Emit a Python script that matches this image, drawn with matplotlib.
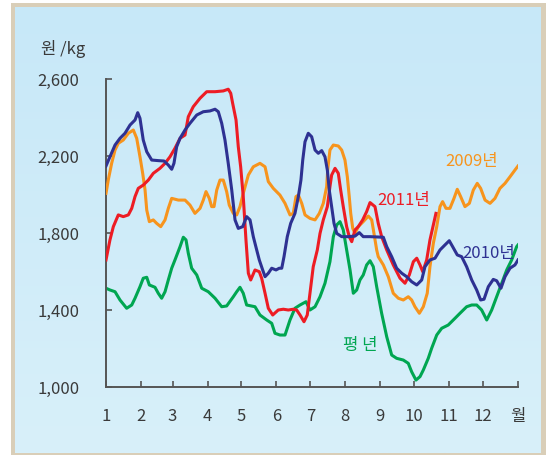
import matplotlib
matplotlib.use('Agg')
import matplotlib.pyplot as plt
import numpy as np
from matplotlib.patches import Rectangle

plt.rcParams['font.family'] = ['Noto Sans CJK KR', 'DejaVu Sans']

# 월 시작일 (1월 1일 = 0일)
month_starts = [0, 31, 59, 90, 120, 151, 181, 212, 243, 273, 304, 334, 365]
month_labels = ['1', '2', '3', '4', '5', '6', '7', '8', '9', '10', '11', '12', '월']
y_ticks = [1000, 1400, 1800, 2200, 2600]
y_labels = ['1,000', '1,400', '1,800', '2,200', '2,600']

# 평년 (일, 원/kg)
days_avg = [0, 3.5, 8, 12.4, 18.3, 22.8, 25.7, 30.1, 33, 36.1,
            38.4, 43.4, 46.3, 49.3, 52.3, 55.2, 58.2, 61.1, 65.6, 68.5,
            70.9, 72.9, 75.9, 80.4, 84.8, 90.6, 96.6, 102.5, 106.9, 112.8,
            115.8, 118.7, 121.6, 124.6, 132, 136.4, 142.4, 146.8, 149.7, 154.1,
            158.6, 163, 167.4, 171.9, 177.2, 180.7, 185.2, 189.6, 194, 198.4,
            201.4, 204.4, 207.3, 210.2, 213.2, 216.2, 219.1, 222.1, 225, 227.9,
            230.9, 233.9, 236.8, 239.8, 244.2, 248.7, 253.1, 257.5, 263.4, 267.8,
            270.8, 274.6, 278.2, 281.1, 285.5, 288.5, 293, 297.4, 303.2, 309.2,
            313.6, 319.5, 324, 328.4, 332.8, 337.3, 341.7, 346.1, 350.6, 355,
            359.4, 363.8, 365]
price_avg = [1513, 1504, 1495, 1452, 1409, 1426, 1461, 1521, 1565, 1570,
             1530, 1518, 1487, 1461, 1495, 1556, 1617, 1660, 1729, 1778,
             1764, 1695, 1617, 1582, 1513, 1495, 1461, 1417, 1421, 1469,
             1495, 1518, 1487, 1426, 1417, 1374, 1348, 1331, 1279, 1270,
             1270, 1348, 1409, 1426, 1443, 1400, 1417, 1469, 1539, 1651,
             1781, 1842, 1859, 1816, 1712, 1608, 1487, 1504, 1556, 1582,
             1634, 1656, 1625, 1521, 1383, 1261, 1166, 1149, 1140, 1123,
             1079, 1036, 1054, 1088, 1149, 1201, 1270, 1305, 1322, 1357,
             1383, 1417, 1426, 1426, 1400, 1348, 1400, 1469, 1539, 1608,
             1660, 1729, 1738]

# 2009년
days_2009 = [0, 2, 5, 8, 10.9, 15.3, 19.8, 24.2, 27.2, 30.1,
             32.5, 34.6, 36.1, 38.4, 41.9, 44.9, 48.5, 52.3, 55.2, 58.2,
             64.1, 70, 74.4, 78.8, 83.3, 86.2, 88.6, 91.5, 93.6, 95.7,
             98.1, 101, 103.9, 106.9, 109.2, 112.8, 115.8, 118.7, 121.6, 126.1,
             130.5, 136.4, 140.9, 143.8, 148.2, 154.1, 158.6, 163, 165.9, 168.3,
             170.4, 173.4, 176.3, 180.7, 185.2, 189, 192.5, 195.5, 196.4, 198.4,
             201.4, 205.8, 208.8, 211.7, 213.8, 215.5, 216.8, 218.6, 220.6, 223.5,
             227.9, 232.4, 235.4, 237.4, 239.8, 241.2, 245.7, 250.1, 254.5, 259,
             263.4, 267.8, 270.8, 273.7, 277.6, 281.1, 284.6, 287, 290, 293,
             295.9, 298.2, 301.2, 304.7, 308.3, 311.2, 314.2, 318, 321.9, 325.4,
             328.9, 331.9, 335.8, 340.2, 344.6, 349, 353.5, 357.9, 362.3, 365]
price_2009 = [2006, 2075, 2162, 2231, 2266, 2283, 2318, 2335, 2292, 2196,
              2110, 2023, 1919, 1859, 1868, 1850, 1833, 1868, 1928, 1980,
              1971, 1971, 1945, 1902, 1928, 1971, 2015, 1980, 1937, 1937,
              2023, 2075, 2075, 2015, 1945, 1902, 1894, 1937, 2006, 2101,
              2144, 2162, 2144, 2067, 2032, 1997, 1954, 1894, 1902, 1989,
              1997, 1954, 1894, 1876, 1868, 1902, 1954, 2041, 2127, 2231,
              2257, 2252, 2231, 2179, 2092, 1989, 1902, 1824, 1798, 1833,
              1859, 1888, 1868, 1798, 1712, 1677, 1634, 1573, 1487, 1461,
              1452, 1469, 1452, 1417, 1383, 1417, 1487, 1625, 1747, 1833,
              1937, 1963, 1928, 1928, 1980, 2027, 1989, 1937, 1954, 2023,
              2058, 2032, 1971, 1954, 1980, 2032, 2058, 2092, 2127, 2148]

# 2010년
days_2010 = [0, 3.5, 8, 12.4, 16.8, 21.3, 25.7, 28.1, 30.1, 33,
             36.1, 40.5, 46.3, 51.4, 55.2, 58.2, 60.2, 62.6, 65.6, 70,
             74.4, 80.4, 86.2, 92.1, 96.6, 99.5, 102.5, 105.4, 108.3, 111.4,
             114.3, 117.2, 121.1, 124.6, 127.6, 130.5, 133.5, 135.8, 138.8, 140.9,
             143.8, 146.8, 150.6, 153.5, 155.7, 157.7, 160.6, 163.6, 167.4, 170.4,
             172.7, 174.3, 176.3, 179.2, 182.2, 185.2, 188.1, 191.1, 194, 196.1,
             197.8, 199.9, 202, 204.4, 208.8, 214.6, 220.6, 224.4, 227.9, 233.9,
             245.7, 248.7, 253.1, 257.5, 262, 266.4, 270.8, 275.3, 279.7, 282.6,
             287, 291.5, 295.9, 300.3, 304.1, 307.1, 311.2, 315.1, 319.5, 324,
             328.4, 331.9, 334.9, 338.7, 343.1, 346.1, 349.9, 353.5, 357.9, 362.3,
             365]
price_2010 = [2148, 2196, 2257, 2292, 2318, 2361, 2387, 2425, 2396, 2283,
              2222, 2179, 2176, 2174, 2153, 2131, 2162, 2248, 2292, 2335,
              2370, 2413, 2430, 2434, 2443, 2430, 2370, 2283, 2162, 2023,
              1868, 1824, 1833, 1885, 1868, 1781, 1712, 1660, 1608, 1573,
              1591, 1617, 1608, 1617, 1617, 1677, 1781, 1850, 1902, 1989,
              2075, 2179, 2274, 2318, 2300, 2231, 2214, 2228, 2196, 2127,
              2023, 1937, 1850, 1798, 1781, 1781, 1784, 1802, 1781, 1781,
              1778, 1729, 1677, 1617, 1591, 1573, 1547, 1530, 1556, 1625,
              1660, 1669, 1712, 1738, 1760, 1729, 1686, 1677, 1625, 1556,
              1504, 1452, 1456, 1521, 1559, 1552, 1513, 1573, 1617, 1634,
              1660]

# 2011년 (10월 중순까지)
days_2011 = [0, 3.5, 6.5, 10.9, 15.3, 19.8, 22.8, 25.7, 28.6, 33,
             37.5, 41.9, 47.8, 52.3, 56.7, 61.1, 65.6, 70, 72.9, 77.3,
             83.3, 89.2, 96.6, 103.9, 108.3, 110.5, 112.2, 115.2, 117.2, 119.3,
             121.6, 124, 126.1, 128.2, 132, 135.8, 137.9, 140.9, 143.8, 147.7,
             152.6, 157.1, 161.5, 165.9, 168.9, 171.9, 175.4, 178.3, 180.7, 183.6,
             187.2, 189.6, 192.5, 196.1, 198.4, 199.9, 202.9, 205.8, 207.9, 210.2,
             213.2, 215.5, 217.7, 220.6, 223.5, 227.4, 230.9, 233.9, 238.3, 241.2,
             244.2, 248.7, 254.5, 260.5, 264.9, 268.7, 272.3, 275.3, 278.2, 280.6,
             284.1, 287, 290, 292.3]
price_2011 = [1660, 1764, 1833, 1894, 1885, 1894, 1928, 1989, 2032, 2049,
              2075, 2110, 2136, 2162, 2196, 2240, 2292, 2309, 2404, 2456,
              2500, 2534, 2534, 2538, 2547, 2526, 2474, 2387, 2248, 2144,
              1989, 1764, 1591, 1556, 1608, 1599, 1565, 1487, 1409, 1374,
              1400, 1404, 1400, 1404, 1400, 1374, 1339, 1374, 1487, 1625,
              1712, 1798, 1868, 1937, 2041, 2101, 2136, 2110, 2023, 1937,
              1833, 1781, 1755, 1816, 1833, 1868, 1911, 1958, 1937, 1850,
              1781, 1712, 1634, 1565, 1539, 1582, 1651, 1669, 1634, 1599,
              1660, 1764, 1842, 1902]

C_2009 = '#f7941d'
C_2010 = '#2e3192'
C_2011 = '#ed1c24'
C_AVG = '#00a651'
TXT = '#3a3a3a'

W, H = 546, 455
fig = plt.figure(figsize=(W / 100, H / 100), dpi=100)
fig.patch.set_facecolor('white')

# 테두리와 하늘색 배경
fig.patches.append(Rectangle((11 / W, 0), 1, 1 - 3 / H, transform=fig.transFigure,
                             facecolor='#d9ceb8', edgecolor='none', zorder=-5))
bg = fig.add_axes([15 / W, 2 / H, 526 / W, 446 / H], zorder=0)
top = np.array([199, 232, 248]) / 255
bot = np.array([216, 240, 250]) / 255
t = np.linspace(0, 1, 256)[:, None]
grad = (top * (1 - t) + bot * t)[:, None, :]
bg.imshow(grad, aspect='auto', extent=[0, 1, 0, 1])
bg.axis('off')

ax = fig.add_axes([106 / W, 68 / H, 412 / W, 308 / H], zorder=1)
ax.patch.set_alpha(0)

ax.plot(days_avg, price_avg, color=C_AVG, lw=2.2, zorder=2)
ax.plot(days_2009, price_2009, color=C_2009, lw=2.2, zorder=3)
ax.plot(days_2011, price_2011, color=C_2011, lw=2.2, zorder=4)
ax.plot(days_2010, price_2010, color=C_2010, lw=2.2, zorder=5)

ax.set_xlim(0, 365)
ax.set_ylim(1000, 2600)
ax.set_xticks(month_starts)
ax.set_xticklabels(month_labels)
ax.set_yticks(y_ticks)
ax.set_yticklabels(y_labels)

for s in ['top', 'right']:
    ax.spines[s].set_visible(False)
for s in ['left', 'bottom']:
    ax.spines[s].set_color('#555555')
    ax.spines[s].set_linewidth(1.4)

ax.tick_params(axis='both', direction='in', length=4, width=1.2, color='#555555',
               labelcolor=TXT, labelsize=12)
ax.tick_params(axis='y', pad=19)
ax.tick_params(axis='x', pad=15)
for lab in ax.get_xticklabels() + ax.get_yticklabels():
    lab.set_fontweight('light')

ax.text(323.8, 2169, '2009년', color=C_2009, fontsize=12, ha='center', va='center', fontweight='light')
ax.text(263.6, 1967, '2011년', color=C_2011, fontsize=12, ha='center', va='center', fontweight='light')
ax.text(338.9, 1696, '2010년', color=C_2010, fontsize=12, ha='center', va='center', fontweight='light')
ax.text(225, 1218, '평 년', color=C_AVG, fontsize=12, ha='center', va='center', fontweight='light')

fig.text(63 / W, 1 - 49 / H, '원 /kg', color=TXT, fontsize=12, ha='center', va='center', fontweight='light')

fig.savefig('out.png', dpi=100)
